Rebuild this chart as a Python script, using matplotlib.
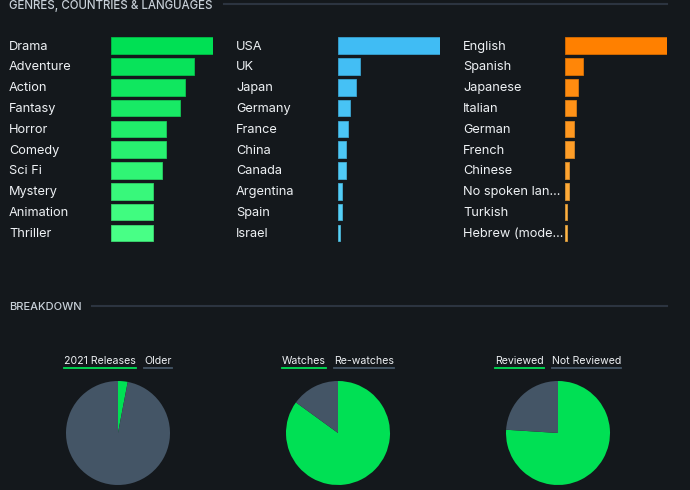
import matplotlib
matplotlib.use("Agg")
import matplotlib.pyplot as plt
import matplotlib.transforms as mtransforms
import numpy as np
from matplotlib.colors import to_rgb

# ---------------- data ----------------
genres = ["Drama", "Adventure", "Action", "Fantasy", "Horror", "Comedy",
          "Sci Fi", "Mystery", "Animation", "Thriller"]
genre_counts = [22, 18, 16, 15, 12, 12, 11, 9, 9, 9]

countries = ["USA", "UK", "Japan", "Germany", "France", "China", "Canada",
             "Argentina", "Spain", "Israel"]
country_counts = [50, 11, 9, 6, 5, 4, 4, 2, 2, 1]

languages = ["English", "Spanish", "Japanese", "Italian", "German", "French",
             "Chinese", "No spoken lan...", "Turkish", "Hebrew (mode..."]
language_counts = [46, 8, 6, 5, 4, 4, 2, 2, 1, 1]

pie_labels = [("2021 Releases", "Older"),
              ("Watches", "Re-watches"),
              ("Reviewed", "Not Reviewed")]
pie_values = [(3, 97), (85, 15), (76, 24)]

# ---------------- style ----------------
BG = "#14181c"
TEXT = "#eef1f4"
HEAD = "#c8d0d8"
RULE = "#2c3440"
GRAY = "#445566"
GREEN = "#00e054"
FONT = ["Inter", "DejaVu Sans"]
plt.rcParams["font.family"] = FONT

W, H = 690, 490
fig = plt.figure(figsize=(W / 100, H / 100), dpi=100, facecolor=BG)


def fx(px):
    return px / W


def fy(py):
    return 1 - py / H


def grad(c0, c1, n):
    a, b = np.array(to_rgb(c0)), np.array(to_rgb(c1))
    return [tuple(a + (b - a) * t) for t in np.linspace(0, 1, n)]


def darker(c, f=0.85):
    return tuple(np.array(to_rgb(c)) * f)


# header
fig.text(fx(9), fy(6.5), "GENRES, COUNTRIES & LANGUAGES", color=HEAD,
         fontsize=8.3, va="center", ha="left", fontweight="medium")
fig.add_artist(plt.Line2D([fx(224), fx(667)], [fy(4), fy(4)],
                          color=RULE, lw=1.5))

# bar charts
panels = [
    (genres, genre_counts, 9, 111, grad(GREEN, "#48ff86", len(genres))),
    (countries, country_counts, 236, 338, grad("#40bcf4", "#58d2f8", len(countries))),
    (languages, language_counts, 463, 565, grad("#ff8000", "#ffb648", len(languages))),
]
row0, step, bar_w = 45.7, 20.8, 101.7
top = row0 - step / 2
bottom = row0 + step * 9.5
for labels, vals, lx, bx, cols in panels:
    ax = fig.add_axes([fx(bx), fy(bottom), fx(bar_w), (bottom - top) / H])
    ax.set_facecolor("none")
    y = np.arange(len(labels))
    ax.barh(y, vals, height=0.8, color=cols,
            edgecolor=[darker(c) for c in cols], linewidth=0.6)
    ax.set_xlim(0, max(vals))
    ax.set_ylim(len(labels) - 0.5, -0.5)
    ax.axis("off")
    tr = mtransforms.blended_transform_factory(fig.transFigure, ax.transData)
    for yi, lab in zip(y, labels):
        ax.text(fx(lx), yi + 0.04, lab, transform=tr, color=TEXT, fontsize=9.2,
                va="center", ha="left")

# breakdown header
fig.text(fx(9), fy(306.7), "BREAKDOWN", color=HEAD, fontsize=8.0,
         va="center", ha="left", fontweight="medium")
fig.add_artist(plt.Line2D([fx(92), fx(667)], [fy(305.7), fy(305.7)],
                          color=RULE, lw=1.5))

# pies
centers = [118, 338, 558]
radius = 52
cy = 433
renderer = fig.canvas.get_renderer()
for (l1, l2), (v1, v2), cx in zip(pie_labels, pie_values, centers):
    ax = fig.add_axes([fx(cx - radius), fy(cy + radius), fx(2 * radius), 2 * radius / H])
    ax.pie([v1, v2], colors=[GREEN, GRAY], startangle=90, counterclock=False,
           radius=1, wedgeprops=dict(linewidth=0))
    ax.set_xlim(-1, 1)
    ax.set_ylim(-1, 1)
    ax.set_aspect("equal")
    ax.axis("off")

    # legend labels with underlines
    t1 = fig.text(0, fy(361), l1, color=TEXT, fontsize=7.6, va="center", ha="left")
    t2 = fig.text(0, fy(361), l2, color=TEXT, fontsize=7.6, va="center", ha="left")
    w1 = t1.get_window_extent(renderer).width
    w2 = t2.get_window_extent(renderer).width
    gap = 8
    start = cx - (w1 + gap + w2) / 2
    t1.set_x(fx(start))
    t2.set_x(fx(start + w1 + gap))
    fig.add_artist(plt.Line2D([fx(start), fx(start + w1)], [fy(367.8), fy(367.8)],
                              color=GREEN, lw=1.3))
    fig.add_artist(plt.Line2D([fx(start + w1 + gap), fx(start + w1 + gap + w2)],
                              [fy(367.8), fy(367.8)], color=GRAY, lw=1.3))

fig.savefig("out.png", dpi=100, facecolor=BG)
